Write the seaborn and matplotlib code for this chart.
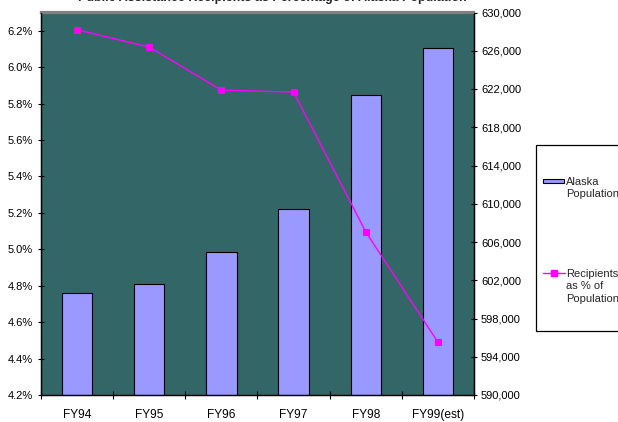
import matplotlib
matplotlib.use("Agg")
import matplotlib.pyplot as plt
import seaborn as sns
from matplotlib.patches import Rectangle
from matplotlib.lines import Line2D
from matplotlib.ticker import FuncFormatter, FixedLocator

years = ["FY94", "FY95", "FY96", "FY97", "FY98", "FY99(est)"]
population = [600700, 601600, 605000, 609400, 621400, 626300]
pct_recipients = [6.205, 6.11, 5.874, 5.863, 5.096, 4.49]
pop_ticks = list(range(590000, 630001, 4000))
pct_ticks = [4.2, 4.4, 4.6, 4.8, 5.0, 5.2, 5.4, 5.6, 5.8, 6.0, 6.2]
legend_labels = ["Alaska\nPopulation", "Recipients\nas % of\nPopulation"]
title = "Public Assistance Recipients as Percentage of Alaska Population"

BAR_C = "#9999FF"
LINE_C = "#FF00FF"
BG_C = "#336666"

sns.set_theme(style="white")
plt.rcParams["font.family"] = ["Liberation Sans", "DejaVu Sans"]

W, H = 618, 422
fig = plt.figure(figsize=(W / 100, H / 100), dpi=100)
ax = fig.add_axes([41 / W, 1 - 395 / H, 433 / W, 382.5 / H])
ax.set_facecolor(BG_C)

sns.barplot(x=years, y=population, ax=ax, color=BAR_C, saturation=1,
            edgecolor="black", linewidth=0.8, width=0.42)

ax2 = ax.twinx()
sns.pointplot(x=years, y=pct_recipients, ax=ax2, color=LINE_C, markers="s",
              markersize=4.5, linewidth=1)
ax2.patch.set_visible(False)

# population axis (bars) on the right
ax.set_ylim(590000, 630000)
ax.set_yticks(pop_ticks)
ax.yaxis.set_major_formatter(FuncFormatter(lambda v, p: f"{v:,.0f}"))
ax.yaxis.set_ticks_position("right")
ax.tick_params(axis="y", left=False, right=True, labelleft=False, labelright=True,
               direction="inout", length=5, width=0.8, labelsize=8, pad=2.5,
               colors="black")
ax.set_xlim(-0.5, len(years) - 0.5)
ax.xaxis.set_minor_locator(FixedLocator([i - 0.5 for i in range(len(years) + 1)]))
ax.tick_params(axis="x", which="major", bottom=False, length=0, labelsize=8.6,
               pad=10, colors="black")
ax.tick_params(axis="x", which="minor", bottom=True, direction="inout",
               length=6, width=0.8, colors="black")
ax.set_xlabel("")
ax.set_ylabel("")

# percentage axis (line) on the left
ax2.set_ylim(4.2, 6.3)
ax2.set_yticks(pct_ticks)
ax2.yaxis.set_major_formatter(FuncFormatter(lambda v, p: f"{v:.1f}%"))
ax2.yaxis.set_ticks_position("left")
ax2.yaxis.set_label_position("left")
ax2.tick_params(axis="y", left=True, right=False, labelleft=True, labelright=False,
                direction="inout", length=5, width=0.8, labelsize=8, pad=3.5,
                colors="black")
ax2.set_xlim(-0.5, len(years) - 0.5)
ax2.set_ylabel("")
ax2.set_xlabel("")

for a in (ax, ax2):
    for s in a.spines.values():
        s.set_color("black")
        s.set_linewidth(0.9)
    a.spines["top"].set_color("#808080")
    a.spines["top"].set_linewidth(1.6)

# legend (drawn as a boxed key to the right of the plot)
fig.add_artist(Rectangle((535.5 / W, 1 - 331 / H), 100 / W, 186 / H,
                         transform=fig.transFigure, facecolor="white",
                         edgecolor="black", linewidth=0.9, clip_on=False))
fig.add_artist(Rectangle((543 / W, 1 - 183 / H), 21 / W, 4 / H,
                         transform=fig.transFigure, facecolor=BAR_C,
                         edgecolor="black", linewidth=0.8))
fig.add_artist(Line2D([543 / W, 565 / W], [1 - 273 / H, 1 - 273 / H],
                      transform=fig.transFigure, color=LINE_C, linewidth=1))
fig.add_artist(Line2D([554 / W], [1 - 273 / H], transform=fig.transFigure,
                      color=LINE_C, marker="s", markersize=4.5, linestyle="none"))
fig.text(566 / W, 1 - 177 / H, legend_labels[0], ha="left", va="top",
         fontsize=8, linespacing=1.3)
fig.text(566 / W, 1 - 269 / H, legend_labels[1], ha="left", va="top",
         fontsize=8, linespacing=1.3)

fig.text(272 / W, 1 - 1.5 / H, title, ha="center", va="baseline", fontsize=9,
         fontweight="bold")

fig.savefig("out.png", dpi=100)
